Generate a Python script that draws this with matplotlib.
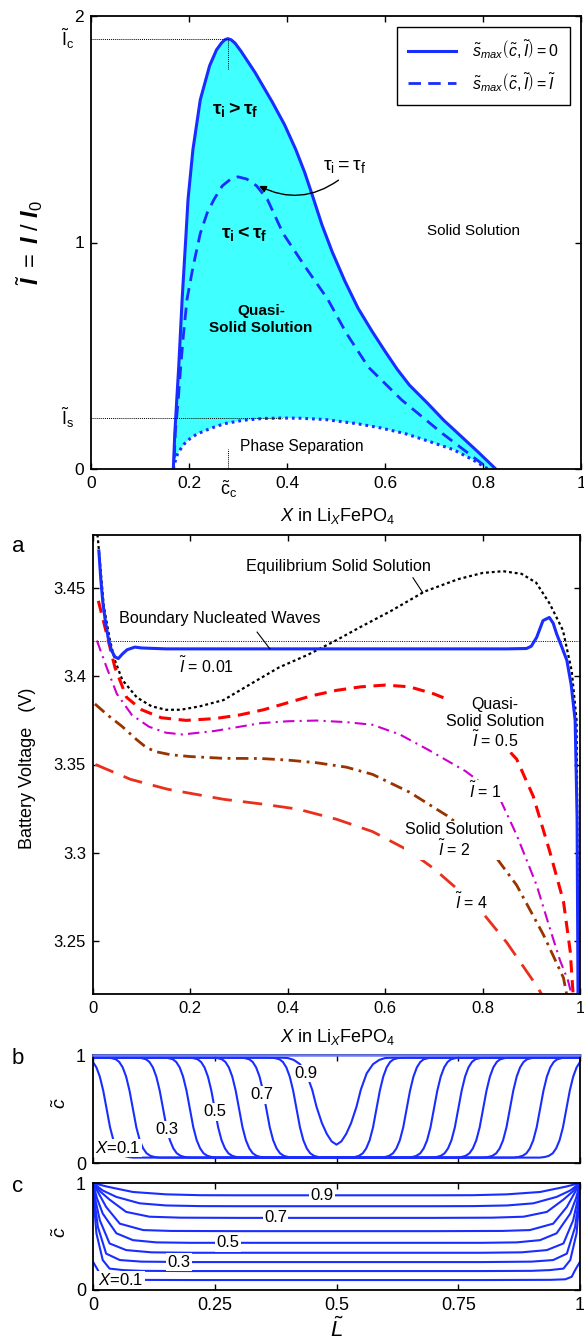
import numpy as np
import matplotlib
matplotlib.use('Agg')
import matplotlib.pyplot as plt

plt.rcParams['font.family'] = ['Liberation Sans', 'DejaVu Sans']
plt.rcParams['mathtext.fontset'] = 'custom'
plt.rcParams['mathtext.rm'] = 'Liberation Sans'
plt.rcParams['mathtext.it'] = 'Liberation Sans:italic'
plt.rcParams['mathtext.bf'] = 'Liberation Sans:bold'
try:
    plt.rcParams['mathtext.bfit'] = 'Liberation Sans:italic:bold'
except Exception:
    pass

# ---------------- data: top phase diagram ----------------
solid_x = [0.168, 0.171, 0.175, 0.179, 0.186, 0.194, 0.198, 0.208, 0.223, 0.242, 0.256, 0.266,
           0.273, 0.279, 0.286, 0.294, 0.306, 0.335, 0.370, 0.395, 0.418, 0.436, 0.453, 0.471,
           0.492, 0.518, 0.545, 0.573, 0.600, 0.625, 0.650, 0.687, 0.720, 0.755, 0.790, 0.826]
solid_y = [0.000, 0.157, 0.305, 0.450, 0.750, 1.040, 1.190, 1.410, 1.630, 1.780, 1.850, 1.880,
           1.895, 1.900, 1.895, 1.880, 1.845, 1.750, 1.620, 1.520, 1.410, 1.310, 1.200, 1.080,
           0.960, 0.830, 0.710, 0.610, 0.520, 0.440, 0.370, 0.290, 0.215, 0.145, 0.075, 0.000]
dashed_x = [0.170, 0.172, 0.178, 0.183, 0.189, 0.196, 0.208, 0.223, 0.237, 0.251, 0.268, 0.285,
            0.300, 0.318, 0.338, 0.360, 0.392, 0.438, 0.483, 0.521, 0.566, 0.634, 0.717, 0.800]
dashed_y = [0.050, 0.160, 0.305, 0.450, 0.600, 0.750, 0.890, 1.040, 1.130, 1.190, 1.250, 1.280,
            1.290, 1.280, 1.250, 1.190, 1.040, 0.890, 0.750, 0.600, 0.450, 0.305, 0.157, 0.020]
dotted_x = [0.168, 0.172, 0.177, 0.190, 0.205, 0.219, 0.245, 0.272, 0.310, 0.350, 0.390, 0.430,
            0.480, 0.543, 0.590, 0.640, 0.690, 0.740, 0.780, 0.810]
dotted_y = [0.000, 0.035, 0.070, 0.110, 0.140, 0.157, 0.180, 0.200, 0.215, 0.223, 0.225, 0.224,
            0.218, 0.200, 0.182, 0.157, 0.122, 0.085, 0.040, 0.000]
I_c, I_s, c_c = 1.90, 0.225, 0.28
top_xticks = [0, 0.2, 0.4, 0.6, 0.8, 1]
top_xticklabels = ['0', '0.2', '0.4', '0.6', '0.8', '1']
top_yticks = [0, 1, 2]
top_yticklabels = ['0', '1', '2']

# ---------------- data: voltage curves ----------------
ess_x = [0.005, 0.010, 0.022, 0.035, 0.045, 0.060, 0.090, 0.120, 0.150, 0.180, 0.220, 0.268,
         0.320, 0.382, 0.440, 0.497, 0.550, 0.612, 0.681, 0.750, 0.800, 0.842, 0.880, 0.910,
         0.938, 0.965, 0.983, 0.993, 0.997]
ess_v = [3.490, 3.478, 3.440, 3.420, 3.409, 3.398, 3.388, 3.383, 3.381, 3.381, 3.383, 3.3865,
         3.395, 3.405, 3.412, 3.420, 3.428, 3.437, 3.448, 3.455, 3.4585, 3.4595, 3.458, 3.453,
         3.441, 3.426, 3.403, 3.375, 3.215]
i001_x = [0.012, 0.016, 0.0205, 0.026, 0.031, 0.038, 0.045, 0.052, 0.060, 0.070, 0.086, 0.100,
          0.150, 0.300, 0.500, 0.700, 0.850, 0.890, 0.900, 0.911, 0.924, 0.937, 0.945, 0.952,
          0.962, 0.973, 0.982, 0.990, 0.994, 0.996]
i001_v = [3.471, 3.455, 3.441, 3.430, 3.422, 3.4146, 3.411, 3.410, 3.4125, 3.415, 3.4165, 3.416,
          3.4155, 3.4155, 3.4155, 3.4155, 3.4155, 3.4157, 3.417, 3.422, 3.4315, 3.4333, 3.430,
          3.424, 3.417, 3.409, 3.395, 3.375, 3.320, 3.215]
i05_x = [0.011, 0.028, 0.045, 0.069, 0.100, 0.140, 0.191, 0.250, 0.300, 0.350, 0.400, 0.450,
         0.500, 0.550, 0.600, 0.650, 0.700, 0.727, 0.754, 0.810, 0.840, 0.870, 0.904, 0.938,
         0.966, 0.980, 0.987]
i05_v = [3.4427, 3.424, 3.405, 3.388, 3.381, 3.3765, 3.375, 3.376, 3.378, 3.381, 3.385, 3.389,
         3.392, 3.394, 3.395, 3.394, 3.390, 3.387, 3.381, 3.370, 3.362, 3.353, 3.332, 3.3006,
         3.2725, 3.244, 3.215]
i1_x = [0.008, 0.028, 0.049, 0.080, 0.115, 0.150, 0.184, 0.250, 0.344, 0.400, 0.459, 0.520,
        0.574, 0.630, 0.688, 0.765, 0.800, 0.836, 0.870, 0.911, 0.938, 0.959, 0.975, 0.987]
i1_v = [3.4202, 3.405, 3.390, 3.378, 3.3714, 3.368, 3.367, 3.369, 3.3734, 3.3745, 3.3749, 3.374,
        3.3725, 3.367, 3.3584, 3.3462, 3.339, 3.3303, 3.310, 3.2816, 3.2573, 3.239, 3.228, 3.215]
i2_x = [0.004, 0.030, 0.060, 0.090, 0.110, 0.130, 0.160, 0.200, 0.268, 0.344, 0.400, 0.459,
        0.520, 0.574, 0.650, 0.727, 0.770, 0.819, 0.870, 0.925, 0.966, 0.976]
i2_v = [3.3843, 3.378, 3.3715, 3.364, 3.3595, 3.3572, 3.3555, 3.3545, 3.3535, 3.3534, 3.3525,
        3.351, 3.3485, 3.3444, 3.3343, 3.321, 3.312, 3.3006, 3.2816, 3.2535, 3.2292, 3.215]
i4_x = [0.005, 0.077, 0.153, 0.268, 0.350, 0.421, 0.500, 0.574, 0.650, 0.700, 0.750, 0.800,
        0.850, 0.880, 0.910, 0.932]
i4_v = [3.350, 3.3416, 3.336, 3.3303, 3.3275, 3.3247, 3.319, 3.312, 3.301, 3.291, 3.279, 3.266,
        3.249, 3.237, 3.225, 3.215]
V_wave = 3.42
mid_yticks = [3.25, 3.30, 3.35, 3.40, 3.45]
mid_yticklabels = ['3.25', '3.3', '3.35', '3.4', '3.45']

# ---------------- data: concentration profiles ----------------
b_front_pos = [0.028, 0.082, 0.144, 0.199, 0.250, 0.300, 0.356, 0.418]   # X = 0.1 ... 0.8
front_dx = [-0.060, -0.045, -0.035, -0.028, -0.021, -0.014, -0.007, 0.000, 0.007, 0.014,
            0.021, 0.028, 0.036, 0.045, 0.055, 0.070]
front_c = [0.975, 0.972, 0.960, 0.935, 0.885, 0.800, 0.670, 0.500, 0.330, 0.210, 0.135,
           0.090, 0.066, 0.055, 0.050, 0.050]
v_x = [0.385, 0.400, 0.412, 0.425, 0.438, 0.450, 0.459, 0.470, 0.480, 0.490, 0.500]   # X = 0.9
v_c = [0.975, 0.972, 0.955, 0.915, 0.830, 0.680, 0.520, 0.370, 0.270, 0.200, 0.170]

c_edge_L = [
    [0.000, 0.010, 0.017, 0.030, 0.060, 0.200],
    [0.000, 0.003, 0.007, 0.020, 0.034, 0.062, 0.100, 0.200],
    [0.000, 0.004, 0.010, 0.027, 0.055, 0.100, 0.200],
    [0.000, 0.006, 0.014, 0.034, 0.068, 0.120, 0.200],
    [0.000, 0.008, 0.020, 0.048, 0.082, 0.130, 0.200],
    [0.000, 0.012, 0.027, 0.055, 0.103, 0.160, 0.300],
    [0.000, 0.015, 0.034, 0.068, 0.116, 0.180, 0.300],
    [0.000, 0.020, 0.048, 0.096, 0.150, 0.220, 0.300],
    [0.000, 0.030, 0.082, 0.150, 0.220, 0.300],
]
c_edge_c = [
    [0.264, 0.186, 0.124, 0.100, 0.095, 0.093],
    [1.000, 0.750, 0.530, 0.280, 0.200, 0.186, 0.179, 0.177],
    [1.000, 0.800, 0.590, 0.340, 0.280, 0.265, 0.261],
    [1.000, 0.820, 0.652, 0.435, 0.373, 0.352, 0.348],
    [1.000, 0.860, 0.714, 0.530, 0.466, 0.445, 0.441],
    [1.000, 0.900, 0.776, 0.620, 0.560, 0.552, 0.550],
    [1.000, 0.920, 0.845, 0.730, 0.685, 0.676, 0.674],
    [1.000, 0.930, 0.870, 0.810, 0.790, 0.784, 0.783],
    [1.000, 0.965, 0.916, 0.894, 0.886, 0.885],
]
L_ticks = [0, 0.25, 0.5, 0.75, 1]
L_ticklabels = ['0', '0.25', '0.5', '0.75', '1']

BLUE = '#1a2dff'
CYAN = '#40ffff'
W, H = 584, 1341
fig = plt.figure(figsize=(W / 100, H / 100), dpi=100)


def rect(l, t, r, b):
    return [l / W, 1 - b / H, (r - l) / W, (b - t) / H]


def style(ax, size=12.5):
    for s in ax.spines.values():
        s.set_linewidth(1.3)
    ax.tick_params(direction='in', length=4, width=1, top=True, right=True,
                   labelsize=size, pad=5)


def ftext(x, y, s, **kw):
    fig.text(x / W, 1 - y / H, s, ha='center', va='center', **kw)


lblbox = dict(boxstyle='square,pad=0.08', fc='white', ec='none')

# ================= top panel =================
ax1 = fig.add_axes(rect(91, 16, 581, 469))
style(ax1)
ax1.fill(np.concatenate([solid_x, dotted_x[::-1]]), np.concatenate([solid_y, dotted_y[::-1]]),
         color=CYAN, lw=0, zorder=1)
ax1.plot(dotted_x, dotted_y, color=BLUE, lw=2.2, ls=(0, (0.9, 1.3)), zorder=2)
l_dash, = ax1.plot(dashed_x, dashed_y, color=BLUE, lw=2.0, ls=(0, (4.5, 2.6)), zorder=2)
l_sol, = ax1.plot(solid_x, solid_y, color=BLUE, lw=2.2, zorder=2)
ax1.plot([0, c_c], [I_c, I_c], color='k', lw=0.7, ls=(0, (1, 1)))
ax1.plot([c_c, c_c], [I_c, I_c - 0.14], color='k', lw=0.7, ls=(0, (1, 1)))
ax1.plot([0, 0.39], [I_s, I_s], color='k', lw=0.7, ls=(0, (1, 1)))
ax1.plot([c_c, c_c], [0, 0.09], color='k', lw=0.7, ls=(0, (1, 1)))
ax1.set_xlim(0, 1)
ax1.set_ylim(0, 2)
ax1.set_xticks(top_xticks)
ax1.set_xticklabels(top_xticklabels)
ax1.set_yticks(top_yticks)
ax1.set_yticklabels(top_yticklabels)
ax1.text(-0.035, I_c, r'$\mathrm{\tilde{I}_c}$', transform=ax1.get_yaxis_transform(),
         ha='right', va='center', fontsize=13)
ax1.text(-0.035, I_s, r'$\mathrm{\tilde{I}_s}$', transform=ax1.get_yaxis_transform(),
         ha='right', va='center', fontsize=13)
ax1.text(c_c, -0.022, r'$\mathrm{\tilde{c}_c}$', transform=ax1.get_xaxis_transform(),
         ha='center', va='top', fontsize=13)
ax1.text(0.294, 1.585, r'$\mathbf{\tau_i > \tau_f}$', fontsize=14, ha='center', va='center')
ax1.text(0.313, 1.04, r'$\mathbf{\tau_i < \tau_f}$', fontsize=14, ha='center', va='center')
ax1.text(0.517, 1.335, r'$\mathrm{\tau_i = \tau_f}$', fontsize=14, ha='center', va='center')
ax1.annotate('', xy=(0.343, 1.25), xytext=(0.505, 1.275),
             arrowprops=dict(arrowstyle='-|>', connectionstyle='arc3,rad=-0.3', color='k',
                             lw=1.0, mutation_scale=10, shrinkA=0, shrinkB=0))
ax1.text(0.347, 0.66, 'Quasi-\nSolid Solution', fontweight='bold', fontsize=11,
         ha='center', va='center', linespacing=1.35)
ax1.text(0.78, 1.05, 'Solid Solution', fontsize=11, ha='center', va='center')
ax1.text(0.43, 0.10, 'Phase Separation', fontsize=11.2, ha='center', va='center')
leg = ax1.legend([l_sol, l_dash],
                 [r'$\tilde{s}_{max}\left(\tilde{c},\tilde{I}\right)=0$',
                  r'$\tilde{s}_{max}\left(\tilde{c},\tilde{I}\right)=\tilde{I}$'],
                 loc='upper right', fontsize=11.5, fancybox=False, edgecolor='k', framealpha=1,
                 borderaxespad=0.7, handlelength=3.0, labelspacing=0.6, borderpad=0.7,
                 handletextpad=1.0)
leg.get_frame().set_linewidth(1.0)

ftext(30, 242, r'$\tilde{\mathbfit{I}}\ =\ \mathbfit{I}\ /\ \mathbfit{I}_0$', fontsize=17, rotation=90)
ftext(338, 516, r'$X$ in Li$_X$FePO$_4$', fontsize=13)

# ================= middle panel =================
ax2 = fig.add_axes(rect(93, 535, 580, 994))
style(ax2, 12)
ax2.plot([0, 1], [V_wave, V_wave], color='k', lw=0.7, ls=(0, (1, 1.3)))
ax2.plot(ess_x, ess_v, color='k', lw=1.6, ls=(0, (1.3, 1.3)))
ax2.plot(i4_x, i4_v, color='#e8301c', lw=2.0, ls=(0, (7, 4)))
ax2.plot(i2_x, i2_v, color='#993300', lw=2.0, ls=(0, (4.5, 2, 1, 2)))
ax2.plot(i1_x, i1_v, color='#cc00cc', lw=1.5, ls=(0, (5.5, 2.5, 1, 2.5)))
ax2.plot(i05_x, i05_v, color='#ff0000', lw=2.2, ls=(0, (4, 2.5)))
ax2.plot(i001_x, i001_v, color=BLUE, lw=2.2)
ax2.set_xlim(0, 1)
ax2.set_ylim(3.22, 3.48)
ax2.set_xticks(top_xticks)
ax2.set_xticklabels(top_xticklabels)
ax2.set_yticks(mid_yticks)
ax2.set_yticklabels(mid_yticklabels)
ax2.text(0.505, 3.462, 'Equilibrium Solid Solution', fontsize=11.7, ha='center', va='center')
ax2.plot([0.657, 0.677], [3.4558, 3.4474], color='k', lw=0.8)
ax2.text(0.26, 3.4326, 'Boundary Nucleated Waves', fontsize=11.7, ha='center', va='center')
ax2.plot([0.337, 0.363], [3.425, 3.4156], color='k', lw=0.8)
ax2.text(0.233, 3.406, r'$\tilde{I}$ = 0.01', fontsize=11.5, ha='center', va='center')
ax2.text(0.825, 3.373, 'Quasi-\nSolid Solution\n' + r'$\tilde{I}$ = 0.5', fontsize=11.5,
         ha='center', va='center', linespacing=1.1, bbox=lblbox)
ax2.text(0.805, 3.335, r'$\tilde{I}$ = 1', fontsize=11.5, ha='center', va='center', bbox=lblbox)
ax2.text(0.742, 3.307, 'Solid Solution\n' + r'$\tilde{I}$ = 2', fontsize=11.5,
         ha='center', va='center', linespacing=1.1, bbox=lblbox)
ax2.text(0.778, 3.2723, r'$\tilde{I}$ = 4', fontsize=11.5, ha='center', va='center', bbox=lblbox)
ftext(28, 768, 'Battery Voltage   (V)', fontsize=13, rotation=90)
ftext(338, 1037, r'$X$ in Li$_X$FePO$_4$', fontsize=13)
ftext(18, 547, 'a', fontsize=16)

# ================= panel b =================
axb = fig.add_axes(rect(93, 1055, 580, 1163))
style(axb, 13)
fd = np.array(front_dx)
fc = np.array(front_c)
for p in b_front_pos:
    xs = np.concatenate([[-0.1], p + fd, (1 - p - fd)[::-1], [1.1]])
    cs = np.concatenate([[front_c[0]], fc, fc[::-1], [front_c[0]]])
    axb.plot(xs, cs, color=BLUE, lw=1.5)
vx = np.array(v_x)
vc = np.array(v_c)
axb.plot(np.concatenate([[-0.1], vx, (1 - vx)[::-1][1:], [1.1]]),
         np.concatenate([[v_c[0]], vc, vc[::-1][1:], [v_c[0]]]), color=BLUE, lw=1.5)
axb.plot([0, 1], [1, 1], color='#6a7bff', lw=1.8, clip_on=False, zorder=3)
axb.set_xlim(0, 1)
axb.set_ylim(0, 1)
axb.set_xticks(L_ticks)
axb.set_xticklabels([])
axb.set_yticks([0, 1])
axb.set_yticklabels(['0', '1'])
for txt, x, y in [('0.9', 0.438, 0.83), ('0.7', 0.346, 0.63), ('0.5', 0.25, 0.475),
                  ('0.3', 0.151, 0.31), (r'$X$=0.1', 0.051, 0.14)]:
    axb.text(x, y, txt, fontsize=12, ha='center', va='center', bbox=lblbox)
ftext(61, 1103, r'$\tilde{c}$', fontsize=14, rotation=90)
ftext(18, 1058, 'b', fontsize=16)

# ================= panel c =================
axc = fig.add_axes(rect(93, 1183, 580, 1290))
style(axc, 13)
for Ls, cs in zip(c_edge_L, c_edge_c):
    Ls = np.array(Ls)
    cs = np.array(cs)
    axc.plot(np.concatenate([Ls, (1 - Ls)[::-1]]), np.concatenate([cs, cs[::-1]]),
             color=BLUE, lw=1.5)
axc.set_xlim(0, 1)
axc.set_ylim(0, 1)
axc.set_xticks(L_ticks)
axc.set_xticklabels(L_ticklabels)
axc.set_yticks([0, 1])
axc.set_yticklabels(['0', '1'])
for txt, x, y in [('0.9', 0.47, 0.885), ('0.7', 0.375, 0.674), ('0.5', 0.277, 0.441),
                  ('0.3', 0.176, 0.261), (r'$X$=0.1', 0.057, 0.093)]:
    axc.text(x, y, txt, fontsize=12, ha='center', va='center', bbox=lblbox)
ftext(61, 1232, r'$\tilde{c}$', fontsize=14, rotation=90)
ftext(18, 1187, 'c', fontsize=16)
ftext(337, 1330, r'$\tilde{L}$', fontsize=16)

fig.savefig('out.png', dpi=100)
